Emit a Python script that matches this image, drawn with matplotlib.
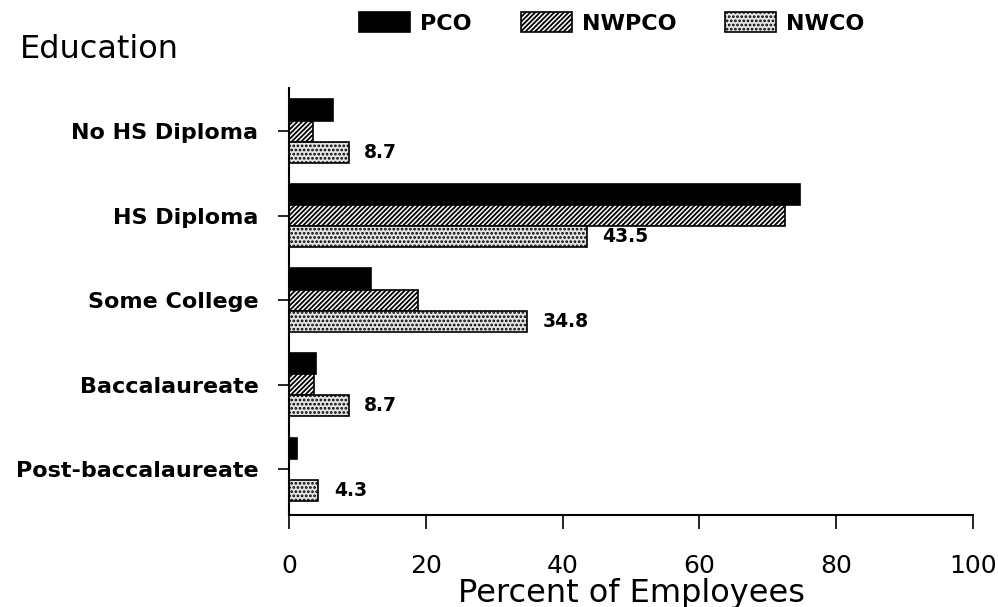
import matplotlib.pyplot as plt
import numpy as np

plt.rcParams['font.family'] = ['DejaVu Sans']
plt.rcParams['hatch.linewidth'] = 1.3

# Data
categories = ['No HS Diploma', 'HS Diploma', 'Some College', 'Baccalaureate', 'Post-baccalaureate']
pco = [6.4, 74.7, 12.0, 4.0, 1.2]
nwpco = [3.5, 72.5, 18.9, 3.7, 0.0]
nwco = [8.7, 43.5, 34.8, 8.7, 4.3]
series_names = ['PCO', 'NWPCO', 'NWCO']

y = np.arange(len(categories))
h = 0.25

fig = plt.figure(figsize=(9.98, 6.07), dpi=100)
ax = fig.add_axes([0.2896, 0.1516, 0.6854, 0.7035])

b1 = ax.barh(y - h, pco, height=h, color='black', edgecolor='black', linewidth=1.2, label=series_names[0])
b2 = ax.barh(y, nwpco, height=h, color='white', edgecolor='black', hatch='///////', linewidth=1.2, label=series_names[1])
b3 = ax.barh(y + h, nwco, height=h, color='#e4e4e4', edgecolor='black', hatch='....', linewidth=1.2, label=series_names[2])

# value labels for NWCO
for yi, v in zip(y, nwco):
    ax.annotate(f"{v:.1f}", xy=(v, yi + h), xytext=(11, 0), textcoords='offset points',
                va='center', ha='left', fontsize=13.5, fontweight='bold')

ax.set_xlim(0, 100)
ax.set_ylim(len(categories) - 1 + 0.54, -0.51)
ax.set_xticks(np.arange(0, 101, 20))
ax.set_yticks(y)
ax.set_yticklabels(categories, fontsize=16, fontweight='bold')
ax.tick_params(axis='x', labelsize=18, length=10, width=1.2, pad=18)
ax.tick_params(axis='y', length=8, width=1.2, pad=14)
ax.spines['top'].set_visible(False)
ax.spines['right'].set_visible(False)
ax.spines['left'].set_linewidth(1.5)
ax.spines['bottom'].set_linewidth(1.5)
ax.set_xlabel('Percent of Employees', fontsize=23, labelpad=0)

fig.text(0.02, 0.918, 'Education', fontsize=23, va='center', ha='left')

fig.legend(handles=[b1, b2, b3], loc='center', bbox_to_anchor=(0.613, 0.962), ncol=3,
           frameon=False, prop={'weight': 'bold', 'size': 16},
           handlelength=2.3, handleheight=1.0, handletextpad=0.45, columnspacing=2.2)

fig.savefig('out.png', dpi=100)
